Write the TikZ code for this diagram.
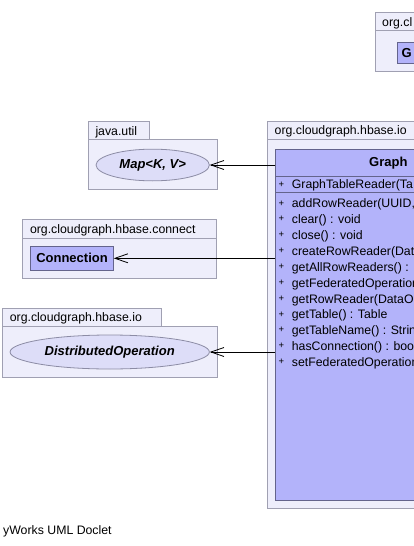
\documentclass[tikz,border=0pt]{standalone}
\usepackage{fontspec}
\setmainfont{Liberation Sans}
\usetikzlibrary{arrows.meta,shapes.geometric}
\definecolor{pkgfill}{RGB}{238,238,251}
\definecolor{pkgline}{RGB}{160,160,178}
\definecolor{clsfill}{RGB}{179,179,250}
\definecolor{clsline}{RGB}{100,100,140}
\definecolor{ifcfill}{RGB}{221,221,248}
\definecolor{ifcline}{RGB}{140,140,165}
\def\fnreg{\fontsize{12.3}{14}\selectfont}
\def\fnbold{\fontsize{13}{15}\selectfont\bfseries}
\def\plus{\makebox[13.4pt][l]{\raisebox{1.8pt}{\fontsize{9.5}{10}\selectfont+}}}

\begin{document}
\begin{tikzpicture}[x=1pt,y=-1pt,
	pkg/.style={draw=pkgline,fill=pkgfill,line width=0.8pt},
	pkglabel/.style={anchor=base west,inner sep=0pt,font=\fnreg},
	cls/.style={draw=clsline,fill=clsfill,line width=0.8pt,inner sep=0pt},
	ifc/.style={ellipse,draw=ifcline,fill=ifcfill,line width=0.8pt,inner sep=0pt,font=\fnbold\itshape},
	member/.style={anchor=base west,inner sep=0pt,font=\fnreg},
	dep/.style={-{Straight Barb[length=13pt,width=9pt]},line width=0.8pt}]
	%%%%% START %%%%%
	\def\dy{15.85}
	\def\ytop{203.5}
	\useasboundingbox (0,0) rectangle (414,546);
	\clip (0,0) rectangle (414,546);
	
	% package top right
	\draw[pkg] (375,12.7) rectangle (420,30.5);
	\draw[pkg] (375,30.5) rectangle (420,71);
	\node[pkglabel] (pkgtop) at (382,26) {org.cl};
	\node[cls,anchor=north west,minimum width=30pt,minimum height=21pt] (gbox) at (397.3,41.7) {};
	\node[anchor=base west,inner sep=0pt,font=\fnbold] (glabel) at (401.5,57) {G};
	
	% package java.util
	\draw[pkg] (88.3,121.7) rectangle (149,139.3);
	\draw[pkg] (88.3,139.3) rectangle (217.3,189);
	\node[pkglabel] (pkgmap) at (95.3,135) {java.util};
	\node[ifc,minimum width=113.3pt,minimum height=31.7pt] (map) at (152.7,165) {Map<K, V>};
	
	% package connect
	\draw[pkg] (22.3,219.3) rectangle (216.7,238.3);
	\draw[pkg] (22.3,238.3) rectangle (216.7,278.3);
	\node[pkglabel] (pkgconn) at (29.8,233.2) {org.cloudgraph.hbase.connect};
	\node[cls,minimum width=82.6pt,minimum height=24.7pt,font=\fnbold] (conn) at (72,258.3) {Connection};
	
	% package io left
	\draw[pkg] (2.7,308.3) rectangle (161.7,326.7);
	\draw[pkg] (2.7,326.7) rectangle (217.3,377.7);
	\node[pkglabel] (pkgdist) at (9.7,321.9) {org.cloudgraph.hbase.io};
	\node[ifc,minimum width=199.3pt,minimum height=34pt] (dist) at (109.7,352) {DistributedOperation};
	
	% package io main
	\draw[pkg] (267.5,121.3) rectangle (420,139.3);
	\draw[pkg] (267.5,139.3) rectangle (420,508.3);
	\node[pkglabel] (pkgmain) at (274.5,134.9) {org.cloudgraph.hbase.io};
	\node[cls,anchor=north west,minimum width=306pt,minimum height=351.5pt] (reader) at (275,148.5) {};
	\node[anchor=base west,inner sep=0pt,font=\fnbold] (rname) at (369,166.7) {Graph};
	\draw[clsline,line width=0.8pt] (275,176) -- (420,176);
	\draw[clsline,line width=0.8pt] (275,192.5) -- (420,192.5);
	\node[member] (ctor) at (278.3,188.9) {\plus GraphTableReader(Ta};
	\foreach \m [count=\i from 0] in {{addRowReader(UUID,},clear() : void,close() : void,createRowReader(Dat,getAllRowReaders() : L,getFederatedOperation,getRowReader(DataO,getTable() : Table,getTableName() : Strin,hasConnection() : boo,setFederatedOperation}
		\node[member] (m\i) at (278.3,{\ytop+4.4+\i*\dy}) {\plus\m};
	
	% dependencies
	\draw[dep] (reader.west |- map.east) -- (map.east);
	\draw[dep] (reader.west |- conn.east) -- (conn.east);
	\draw[dep] (reader.west |- dist.east) -- (dist.east);
	
	\node[anchor=base west,inner sep=0pt,font=\fnreg] (footer) at (3,534.4) {yWorks UML Doclet};
	%%%%% END %%%%%
\end{tikzpicture}
\end{document}
